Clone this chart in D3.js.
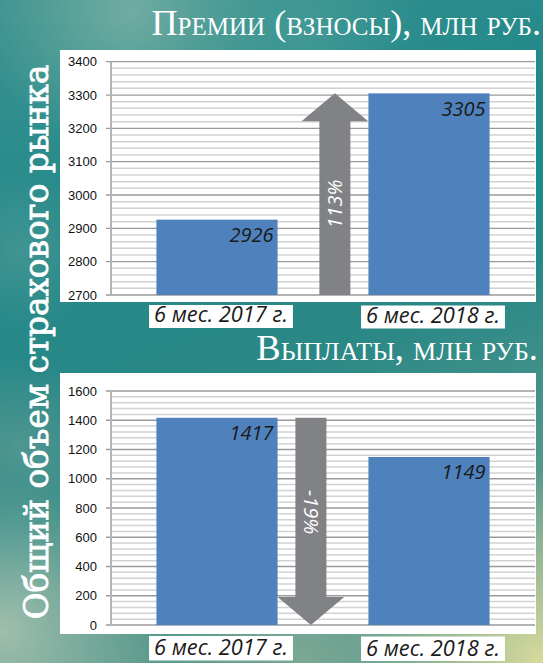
<!DOCTYPE html>
<html><head><meta charset="utf-8">
<script src="https://cdn.jsdelivr.net/npm/d3@7"></script>
<style>
html,body{margin:0;padding:0;background:#2a8c8c;}
svg{display:block;}
</style></head>
<body>
<svg id="chart" width="543" height="663"></svg>
<script>
// ---- data ----
const categories = ["6 мес. 2017 г.", "6 мес. 2018 г."];
const premiums = [2926, 3305];
const payouts = [1417, 1149];
const premiumTicks = [2700, 2800, 2900, 3000, 3100, 3200, 3300, 3400];
const payoutTicks = [0, 200, 400, 600, 800, 1000, 1200, 1400, 1600];
const premiumChange = "113%";
const payoutChange = "-19%";
const premiumTitle = "Премии (взносы), млн руб.";
const payoutTitle = "Выплаты, млн руб.";
const sideTitle = "Общий объем страхового рынка";

const svg = d3.select("#chart");
const W = 543, H = 663;

// ---- background ----
const defs = svg.append("defs");
const base = defs.append("linearGradient").attr("id","bgBase").attr("x1",0).attr("y1",0).attr("x2",0.3).attr("y2",1);
[["0%","#3a9290"],["35%","#24898a"],["65%","#2a8886"],["100%","#5f9c8e"]].forEach(s=>base.append("stop").attr("offset",s[0]).attr("stop-color",s[1]));
svg.append("rect").attr("width",W).attr("height",H).attr("fill","url(#bgBase)");
const blobs = [
  {id:"b1",cx:130,cy:10,r:150,c:"#8ab8a8",o:0.7},
  {id:"b2",cx:300,cy:30,r:120,c:"#5aa8a0",o:0.45},
  {id:"b3",cx:540,cy:660,r:190,c:"#dcdc9c",o:0.95},
  {id:"b4",cx:5,cy:630,r:150,c:"#b4c8b4",o:0.8},
  {id:"b5",cx:20,cy:450,r:90,c:"#6aa098",o:0.6},
  {id:"b6",cx:300,cy:660,r:120,c:"#8cb098",o:0.6},
  {id:"b7",cx:530,cy:180,r:120,c:"#138a8e",o:0.6},
  {id:"b8",cx:20,cy:250,r:80,c:"#6aa59c",o:0.4}
];
blobs.forEach(b=>{
  const g = defs.append("radialGradient").attr("id",b.id);
  g.append("stop").attr("offset","0%").attr("stop-color",b.c).attr("stop-opacity",b.o);
  g.append("stop").attr("offset","100%").attr("stop-color",b.c).attr("stop-opacity",0);
  svg.append("circle").attr("cx",b.cx).attr("cy",b.cy).attr("r",b.r).attr("fill",`url(#${b.id})`);
});

function fitWidth(sel, target, fs){
  const len = sel.node().getComputedTextLength();
  sel.attr("font-size", fs*target/len);
}

// ---- side title ----
const side = svg.append("text")
  .attr("transform","translate(48,342) rotate(-90)")
  .attr("text-anchor","middle")
  .attr("font-family","'DejaVu Serif', 'Liberation Serif', serif")
  .attr("fill","#ffffff")
  .attr("stroke","#ffffff").attr("stroke-width",0.8)
  .attr("font-size",30)
  .text(sideTitle);
fitWidth(side, 555, 30);

const barColor = "#4f81bd";
const arrowColor = "#808285";
const valueFont = "'Open Sans', 'Noto Sans', sans-serif";

function drawChart(opt){
  const g = svg.append("g");
  // panel
  g.append("rect").attr("x",opt.panel[0]).attr("y",opt.panel[1])
    .attr("width",opt.panel[2]-opt.panel[0]).attr("height",opt.panel[3]-opt.panel[1]).attr("fill","#ffffff");
  // title
  const t = g.append("text").attr("x",opt.titleRight).attr("y",opt.titleY)
    .attr("text-anchor","end").attr("fill","#ffffff")
    .attr("font-family","'Liberation Serif', 'DejaVu Serif', serif")
    .style("font-variant","small-caps").attr("font-size",30).text(opt.title);
  fitWidth(t, opt.titleWidth, 30);

  const x = d3.scaleBand().domain(categories).range([111,535]).paddingInner(0.4286).paddingOuter(0.2143);
  const ticks = opt.ticks;
  const y = d3.scaleLinear().domain([ticks[0], ticks[ticks.length-1]]).range(opt.yRange);
  const step = ticks[1]-ticks[0];
  const minor = d3.range(ticks[0], ticks[ticks.length-1]+1e-9, step/5).filter(v=>!ticks.includes(v));
  // minor grid
  g.selectAll(".minor").data(minor).join("line")
    .attr("x1",111).attr("x2",535).attr("y1",d=>y(d)).attr("y2",d=>y(d))
    .attr("stroke","#d2d2d2").attr("stroke-width",1.5);
  // major grid
  g.selectAll(".major").data(ticks).join("line")
    .attr("x1",106).attr("x2",535).attr("y1",d=>y(d)).attr("y2",d=>y(d))
    .attr("stroke","#9a9a9a").attr("stroke-width",1.3);
  // y axis line
  g.append("line").attr("x1",111).attr("x2",111).attr("y1",y.range()[1]).attr("y2",y.range()[0])
    .attr("stroke","#b4b4b4").attr("stroke-width",2);
  // tick labels
  g.selectAll(".tl").data(ticks).join("text")
    .attr("x",97).attr("y",d=>y(d)).attr("dy","0.36em").attr("text-anchor","end")
    .attr("font-family","'Liberation Sans', Arial, sans-serif").attr("font-size",13).attr("fill","#111")
    .text(d=>d);
  // bars
  g.selectAll(".bar").data(opt.values).join("rect")
    .attr("x",(d,i)=>x(categories[i])).attr("width",x.bandwidth())
    .attr("y",d=>y(d)).attr("height",d=>y(ticks[0])-y(d)).attr("fill",barColor);
  // value labels
  g.selectAll(".vl").data(opt.values).join("text")
    .attr("x",(d,i)=>x(categories[i])+x.bandwidth()-4).attr("y",d=>y(d)+22.5)
    .attr("text-anchor","end").attr("font-family",valueFont).attr("font-style","italic")
    .attr("font-size",20).attr("fill","#1a1a1a").text(d=>d);
  // arrow
  const c0 = x(categories[0])+x.bandwidth()/2, c1 = x(categories[1])+x.bandwidth()/2;
  const ax = c0 + (c1-c0)*opt.arrowPos;
  const sw = 15.5, hw = 33.3, hh = 28;
  let pts;
  if (opt.up){
    const tail = y(ticks[0]), tip = y(opt.values[1]);
    pts = [[ax-sw,tail],[ax-sw,tip+hh],[ax-hw,tip+hh],[ax,tip],[ax+hw,tip+hh],[ax+sw,tip+hh],[ax+sw,tail]];
  } else {
    const tail = y(opt.values[0]), tip = y(ticks[0]);
    pts = [[ax-sw,tail],[ax-sw,tip-hh],[ax-hw,tip-hh],[ax,tip],[ax+hw,tip-hh],[ax+sw,tip-hh],[ax+sw,tail]];
  }
  g.append("polygon").attr("points",pts.map(p=>p.join(",")).join(" ")).attr("fill",arrowColor);
  g.append("text")
    .attr("transform",`translate(${ax},${opt.arrowTextY}) rotate(${opt.up?-90:90})`)
    .attr("text-anchor","middle").attr("dy","0.36em")
    .attr("font-family",valueFont).attr("font-style","italic").attr("font-size",20).attr("fill","#ffffff")
    .text(opt.change);
  // category labels with white boxes
  categories.forEach((cat,i)=>{
    const cx = x(cat)+x.bandwidth()/2 + 4;
    const lab = g.append("text").attr("x",cx).attr("y",opt.labelY[i]).attr("text-anchor","middle")
      .attr("font-family",valueFont).attr("font-style","italic").attr("font-size",20).attr("fill","#1a1a1a")
      .text(cat);
    fitWidth(lab, 134, 20);
    const bb = lab.node().getBBox();
    g.insert("rect", () => lab.node())
      .attr("x",cx-bb.width/2-5).attr("y",opt.boxY[i]).attr("width",bb.width+10).attr("height",opt.boxH)
      .attr("fill","#ffffff");
  });
}

drawChart({
  panel:[60,50,536,302], title:premiumTitle, titleRight:541, titleY:35, titleWidth:393,
  ticks:premiumTicks, yRange:[295,61.7], values:premiums, up:true, arrowPos:0.556,
  change:premiumChange, arrowTextY:204, labelY:[322,322.5], boxY:[305,305.5], boxH:23
});
drawChart({
  panel:[60,373,536,634], title:payoutTitle, titleRight:538, titleY:360, titleWidth:278,
  ticks:payoutTicks, yRange:[625,391], values:payouts, up:false, arrowPos:0.443,
  change:payoutChange, arrowTextY:512, labelY:[655,655.5], boxY:[636,636.5], boxH:24.5
});
</script>
</body></html>
